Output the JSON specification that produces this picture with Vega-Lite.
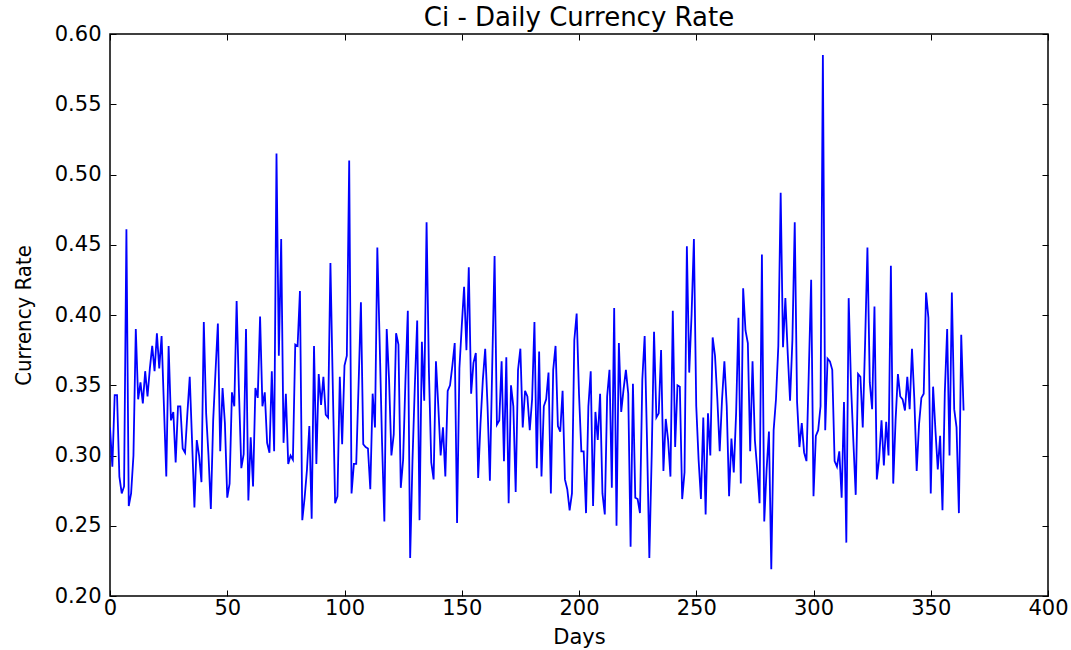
{
"$schema": "https://vega.github.io/schema/vega-lite/v6.json",
"width": 938, "height": 562,
"autosize": {"type": "none"},
"padding": {"left": 110, "top": 34, "right": 23, "bottom": 54},
"background": "white",
"title": {"text": "Ci - Daily Currency Rate", "font": "DejaVu Sans", "fontSize": 26, "fontWeight": "normal", "color": "black", "offset": 7, "dy": 15, "anchor": "middle"},
"config": {
  "view": {"stroke": "black", "strokeWidth": 1.5},
  "axis": {"domain": false, "grid": false, "tickColor": "black", "tickWidth": 1, "tickSize": -6, "labelColor": "black", "labelFont": "DejaVu Sans", "labelFontSize": 21, "titleColor": "black", "titleFontWeight": "normal"}
},
"data": {"values": [
{"day":0,"rate":0.320},{"day":1,"rate":0.292},{"day":2,"rate":0.343},{"day":3,"rate":0.343},{"day":4,"rate":0.285},{"day":5,"rate":0.273},{"day":6,"rate":0.278},{"day":7,"rate":0.461},{"day":8,"rate":0.264},{"day":9,"rate":0.273},
{"day":10,"rate":0.300},{"day":11,"rate":0.390},{"day":12,"rate":0.340},{"day":13,"rate":0.352},{"day":14,"rate":0.337},{"day":15,"rate":0.360},{"day":16,"rate":0.342},{"day":17,"rate":0.362},{"day":18,"rate":0.378},{"day":19,"rate":0.360},
{"day":20,"rate":0.387},{"day":21,"rate":0.362},{"day":22,"rate":0.385},{"day":23,"rate":0.335},{"day":24,"rate":0.285},{"day":25,"rate":0.378},{"day":26,"rate":0.325},{"day":27,"rate":0.331},{"day":28,"rate":0.295},{"day":29,"rate":0.335},
{"day":30,"rate":0.335},{"day":31,"rate":0.305},{"day":32,"rate":0.302},{"day":33,"rate":0.330},{"day":34,"rate":0.356},{"day":35,"rate":0.310},{"day":36,"rate":0.263},{"day":37,"rate":0.311},{"day":38,"rate":0.300},{"day":39,"rate":0.281},
{"day":40,"rate":0.395},{"day":41,"rate":0.330},{"day":42,"rate":0.300},{"day":43,"rate":0.262},{"day":44,"rate":0.325},{"day":45,"rate":0.360},{"day":46,"rate":0.394},{"day":47,"rate":0.303},{"day":48,"rate":0.348},{"day":49,"rate":0.323},
{"day":50,"rate":0.270},{"day":51,"rate":0.280},{"day":52,"rate":0.345},{"day":53,"rate":0.335},{"day":54,"rate":0.410},{"day":55,"rate":0.345},{"day":56,"rate":0.291},{"day":57,"rate":0.301},{"day":58,"rate":0.390},{"day":59,"rate":0.268},
{"day":60,"rate":0.313},{"day":61,"rate":0.278},{"day":62,"rate":0.348},{"day":63,"rate":0.341},{"day":64,"rate":0.399},{"day":65,"rate":0.335},{"day":66,"rate":0.345},{"day":67,"rate":0.309},{"day":68,"rate":0.302},{"day":69,"rate":0.360},
{"day":70,"rate":0.303},{"day":71,"rate":0.515},{"day":72,"rate":0.371},{"day":73,"rate":0.454},{"day":74,"rate":0.309},{"day":75,"rate":0.344},{"day":76,"rate":0.294},{"day":77,"rate":0.300},{"day":78,"rate":0.297},{"day":79,"rate":0.379},
{"day":80,"rate":0.378},{"day":81,"rate":0.417},{"day":82,"rate":0.254},{"day":83,"rate":0.270},{"day":84,"rate":0.290},{"day":85,"rate":0.321},{"day":86,"rate":0.255},{"day":87,"rate":0.378},{"day":88,"rate":0.294},{"day":89,"rate":0.358},
{"day":90,"rate":0.336},{"day":91,"rate":0.356},{"day":92,"rate":0.329},{"day":93,"rate":0.327},{"day":94,"rate":0.437},{"day":95,"rate":0.350},{"day":96,"rate":0.266},{"day":97,"rate":0.271},{"day":98,"rate":0.356},{"day":99,"rate":0.308},
{"day":100,"rate":0.364},{"day":101,"rate":0.371},{"day":102,"rate":0.510},{"day":103,"rate":0.273},{"day":104,"rate":0.294},{"day":105,"rate":0.294},{"day":106,"rate":0.350},{"day":107,"rate":0.409},{"day":108,"rate":0.308},{"day":109,"rate":0.306},
{"day":110,"rate":0.305},{"day":111,"rate":0.276},{"day":112,"rate":0.344},{"day":113,"rate":0.320},{"day":114,"rate":0.448},{"day":115,"rate":0.380},{"day":116,"rate":0.310},{"day":117,"rate":0.253},{"day":118,"rate":0.390},{"day":119,"rate":0.354},
{"day":120,"rate":0.300},{"day":121,"rate":0.315},{"day":122,"rate":0.387},{"day":123,"rate":0.379},{"day":124,"rate":0.277},{"day":125,"rate":0.297},{"day":126,"rate":0.354},{"day":127,"rate":0.403},{"day":128,"rate":0.227},{"day":129,"rate":0.297},
{"day":130,"rate":0.350},{"day":131,"rate":0.396},{"day":132,"rate":0.254},{"day":133,"rate":0.381},{"day":134,"rate":0.339},{"day":135,"rate":0.466},{"day":136,"rate":0.360},{"day":137,"rate":0.295},{"day":138,"rate":0.283},{"day":139,"rate":0.367},
{"day":140,"rate":0.335},{"day":141,"rate":0.300},{"day":142,"rate":0.320},{"day":143,"rate":0.285},{"day":144,"rate":0.346},{"day":145,"rate":0.350},{"day":146,"rate":0.364},{"day":147,"rate":0.380},{"day":148,"rate":0.252},{"day":149,"rate":0.362},
{"day":150,"rate":0.392},{"day":151,"rate":0.420},{"day":152,"rate":0.375},{"day":153,"rate":0.434},{"day":154,"rate":0.344},{"day":155,"rate":0.366},{"day":156,"rate":0.373},{"day":157,"rate":0.284},{"day":158,"rate":0.323},{"day":159,"rate":0.354},
{"day":160,"rate":0.376},{"day":161,"rate":0.335},{"day":162,"rate":0.282},{"day":163,"rate":0.364},{"day":164,"rate":0.442},{"day":165,"rate":0.322},{"day":166,"rate":0.325},{"day":167,"rate":0.367},{"day":168,"rate":0.296},{"day":169,"rate":0.370},
{"day":170,"rate":0.266},{"day":171,"rate":0.350},{"day":172,"rate":0.335},{"day":173,"rate":0.274},{"day":174,"rate":0.361},{"day":175,"rate":0.376},{"day":176,"rate":0.320},{"day":177,"rate":0.346},{"day":178,"rate":0.342},{"day":179,"rate":0.318},
{"day":180,"rate":0.340},{"day":181,"rate":0.395},{"day":182,"rate":0.291},{"day":183,"rate":0.374},{"day":184,"rate":0.285},{"day":185,"rate":0.335},{"day":186,"rate":0.340},{"day":187,"rate":0.359},{"day":188,"rate":0.273},{"day":189,"rate":0.361},
{"day":190,"rate":0.378},{"day":191,"rate":0.321},{"day":192,"rate":0.317},{"day":193,"rate":0.346},{"day":194,"rate":0.283},{"day":195,"rate":0.276},{"day":196,"rate":0.261},{"day":197,"rate":0.273},{"day":198,"rate":0.382},{"day":199,"rate":0.401},
{"day":200,"rate":0.344},{"day":201,"rate":0.303},{"day":202,"rate":0.303},{"day":203,"rate":0.259},{"day":204,"rate":0.335},{"day":205,"rate":0.360},{"day":206,"rate":0.264},{"day":207,"rate":0.331},{"day":208,"rate":0.311},{"day":209,"rate":0.344},
{"day":210,"rate":0.273},{"day":211,"rate":0.258},{"day":212,"rate":0.342},{"day":213,"rate":0.361},{"day":214,"rate":0.277},{"day":215,"rate":0.405},{"day":216,"rate":0.250},{"day":217,"rate":0.380},{"day":218,"rate":0.331},{"day":219,"rate":0.347},
{"day":220,"rate":0.361},{"day":221,"rate":0.344},{"day":222,"rate":0.235},{"day":223,"rate":0.351},{"day":224,"rate":0.270},{"day":225,"rate":0.269},{"day":226,"rate":0.259},{"day":227,"rate":0.354},{"day":228,"rate":0.385},{"day":229,"rate":0.311},
{"day":230,"rate":0.227},{"day":231,"rate":0.300},{"day":232,"rate":0.388},{"day":233,"rate":0.327},{"day":234,"rate":0.330},{"day":235,"rate":0.375},{"day":236,"rate":0.289},{"day":237,"rate":0.326},{"day":238,"rate":0.311},{"day":239,"rate":0.285},
{"day":240,"rate":0.403},{"day":241,"rate":0.306},{"day":242,"rate":0.350},{"day":243,"rate":0.349},{"day":244,"rate":0.269},{"day":245,"rate":0.288},{"day":246,"rate":0.449},{"day":247,"rate":0.359},{"day":248,"rate":0.400},{"day":249,"rate":0.454},
{"day":250,"rate":0.335},{"day":251,"rate":0.297},{"day":252,"rate":0.269},{"day":253,"rate":0.327},{"day":254,"rate":0.258},{"day":255,"rate":0.330},{"day":256,"rate":0.300},{"day":257,"rate":0.384},{"day":258,"rate":0.371},{"day":259,"rate":0.340},
{"day":260,"rate":0.303},{"day":261,"rate":0.340},{"day":262,"rate":0.367},{"day":263,"rate":0.335},{"day":264,"rate":0.271},{"day":265,"rate":0.312},{"day":266,"rate":0.288},{"day":267,"rate":0.330},{"day":268,"rate":0.398},{"day":269,"rate":0.280},
{"day":270,"rate":0.419},{"day":271,"rate":0.389},{"day":272,"rate":0.380},{"day":273,"rate":0.303},{"day":274,"rate":0.367},{"day":275,"rate":0.311},{"day":276,"rate":0.290},{"day":277,"rate":0.266},{"day":278,"rate":0.443},{"day":279,"rate":0.253},
{"day":280,"rate":0.290},{"day":281,"rate":0.317},{"day":282,"rate":0.219},{"day":283,"rate":0.318},{"day":284,"rate":0.340},{"day":285,"rate":0.378},{"day":286,"rate":0.487},{"day":287,"rate":0.377},{"day":288,"rate":0.412},{"day":289,"rate":0.373},
{"day":290,"rate":0.339},{"day":291,"rate":0.382},{"day":292,"rate":0.466},{"day":293,"rate":0.338},{"day":294,"rate":0.306},{"day":295,"rate":0.323},{"day":296,"rate":0.302},{"day":297,"rate":0.296},{"day":298,"rate":0.360},{"day":299,"rate":0.425},
{"day":300,"rate":0.271},{"day":301,"rate":0.314},{"day":302,"rate":0.318},{"day":303,"rate":0.335},{"day":304,"rate":0.585},{"day":305,"rate":0.318},{"day":306,"rate":0.369},{"day":307,"rate":0.367},{"day":308,"rate":0.361},{"day":309,"rate":0.296},
{"day":310,"rate":0.292},{"day":311,"rate":0.303},{"day":312,"rate":0.270},{"day":313,"rate":0.338},{"day":314,"rate":0.238},{"day":315,"rate":0.412},{"day":316,"rate":0.350},{"day":317,"rate":0.310},{"day":318,"rate":0.272},{"day":319,"rate":0.358},
{"day":320,"rate":0.356},{"day":321,"rate":0.320},{"day":322,"rate":0.380},{"day":323,"rate":0.448},{"day":324,"rate":0.352},{"day":325,"rate":0.333},{"day":326,"rate":0.406},{"day":327,"rate":0.283},{"day":328,"rate":0.298},{"day":329,"rate":0.325},
{"day":330,"rate":0.293},{"day":331,"rate":0.324},{"day":332,"rate":0.300},{"day":333,"rate":0.435},{"day":334,"rate":0.280},{"day":335,"rate":0.325},{"day":336,"rate":0.358},{"day":337,"rate":0.342},{"day":338,"rate":0.340},{"day":339,"rate":0.332},
{"day":340,"rate":0.356},{"day":341,"rate":0.333},{"day":342,"rate":0.376},{"day":343,"rate":0.340},{"day":344,"rate":0.289},{"day":345,"rate":0.322},{"day":346,"rate":0.341},{"day":347,"rate":0.344},{"day":348,"rate":0.416},{"day":349,"rate":0.398},
{"day":350,"rate":0.273},{"day":351,"rate":0.349},{"day":352,"rate":0.318},{"day":353,"rate":0.290},{"day":354,"rate":0.314},{"day":355,"rate":0.261},{"day":356,"rate":0.345},{"day":357,"rate":0.390},{"day":358,"rate":0.300},{"day":359,"rate":0.416},
{"day":360,"rate":0.333},{"day":361,"rate":0.320},{"day":362,"rate":0.259},{"day":363,"rate":0.386},{"day":364,"rate":0.332}
]},
"layer": [
  {
    "mark": {"type": "line", "color": "#0000ff", "strokeWidth": 1.8, "clip": true},
    "encoding": {
      "x": {"field": "day", "type": "quantitative", "scale": {"domain": [0, 400], "nice": false, "zero": false},
            "axis": {"orient": "bottom", "values": [0, 50, 100, 150, 200, 250, 300, 350, 400], "title": "Days", "titleFont": "DejaVu Sans", "titleFontSize": 21, "labelPadding": 7, "titlePadding": 8, "labelFlush": false}},
      "y": {"field": "rate", "type": "quantitative", "scale": {"domain": [0.2, 0.6], "nice": false, "zero": false},
            "axis": {"orient": "left", "values": [0.2, 0.25, 0.3, 0.35, 0.4, 0.45, 0.5, 0.55, 0.6], "format": ".2f", "title": "Currency Rate", "titleFont": "DejaVu Sans Condensed, Liberation Sans Narrow, DejaVu Sans", "titleFontSize": 22, "labelPadding": 15, "titlePadding": 19, "labelFlush": false}}
    }
  },
  {
    "mark": {"type": "line", "strokeOpacity": 0},
    "encoding": {
      "x": {"field": "day", "type": "quantitative", "scale": {"domain": [0, 400], "nice": false, "zero": false},
            "axis": {"orient": "top", "values": [0, 50, 100, 150, 200, 250, 300, 350, 400], "labels": false, "title": null}},
      "y": {"field": "rate", "type": "quantitative", "scale": {"domain": [0.2, 0.6], "nice": false, "zero": false},
            "axis": {"orient": "right", "values": [0.2, 0.25, 0.3, 0.35, 0.4, 0.45, 0.5, 0.55, 0.6], "labels": false, "title": null}}
    }
  }
],
"resolve": {"axis": {"x": "independent", "y": "independent"}}
}
